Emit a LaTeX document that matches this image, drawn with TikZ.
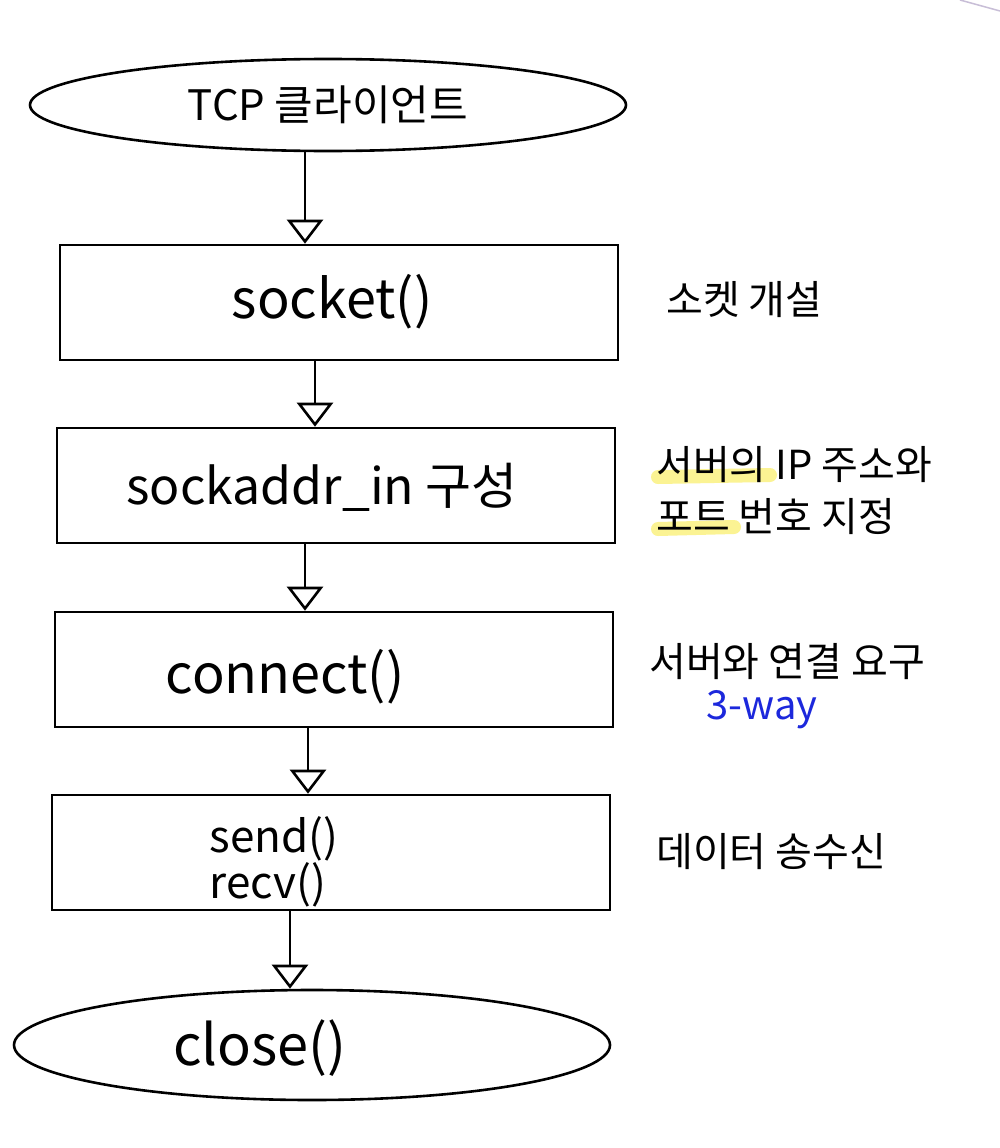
\documentclass[tikz,border=0pt]{standalone}
\usepackage{fontspec}
\setmainfont{Noto Sans CJK KR}
\usetikzlibrary{shapes.geometric,arrows.meta}
\definecolor{hl}{RGB}{250,240,120}
\definecolor{wayblue}{RGB}{28,40,220}
\definecolor{faint}{RGB}{200,190,215}
\begin{document}
\begin{tikzpicture}[x=1pt,y=-1pt,
 line width=2.6pt,
 term/.style={draw, ellipse, inner sep=0pt, minimum width=596pt},
 stepbox/.style={draw, rectangle, minimum width=558pt, minimum height=115pt, inner sep=0pt},
 code/.style={font=\fontsize{54}{58}\selectfont, inner sep=0pt},
 note/.style={font=\fontsize{40}{44}\selectfont, anchor=west, inner sep=0pt},
 arr/.style={-{Triangle[open,width=36pt,length=24pt,line width=2.6pt]}},
]
\useasboundingbox (0,0) rectangle (1000,1148);
\fill[white] (0,0) rectangle (1000,1148);
\draw[faint, line width=1.5pt] (960,0) -- (1000,11);

% flow nodes
\node[term, minimum height=92pt, font=\fontsize{42}{46}\selectfont] (tcp) at (328,105) {TCP 클라이언트};
\node[stepbox] (sock) at (339,302.5) {};
\node[code] (sockT) at (332,302) {socket()};
\node[stepbox] (addr) at (336,485.5) {};
\node[code, font=\fontsize{50}{54}\selectfont] (addrT) at (322,487) {sockaddr\_in 구성};
\node[stepbox] (conn) at (334,669.5) {};
\node[code] (connT) at (285,677) {connect()};
\node[stepbox] (io) at (331,852.5) {};
\node[code, align=left, font=\fontsize{44}{44}\selectfont] (ioT) at (274,862) {send()\\recv()};
\node[term, minimum height=110pt] (cls) at (312,1045) {};
\node[code, font=\fontsize{56}{60}\selectfont] (clsT) at (260,1048) {close()};

% connectors
\coordinate (x1) at (305,0);
\coordinate (x2) at (315,0);
\coordinate (x3) at (305,0);
\coordinate (x4) at (308,0);
\coordinate (x5) at (290,0);
\draw[arr] (x1 |- tcp.south) -- (x1 |- sock.north);
\draw[arr] (x2 |- sock.south) -- (x2 |- addr.north);
\draw[arr] (x3 |- addr.south) -- (x3 |- conn.north);
\draw[arr] (x4 |- conn.south) -- (x4 |- io.north);
\draw[arr] (x5 |- io.south) -- (x5 |- cls.north);

% highlights
\draw[hl, line width=14pt, line cap=round, opacity=0.8] (658,477) -- (770,475);
\draw[hl, line width=14pt, line cap=round, opacity=0.8] (658,529) -- (734,527);

% notes
\node[note] (n1) at (665,300) {소켓 개설};
\node[note] (n2) at (655,465) {서버의 IP 주소와};
\node[note] (n3) at (655,517) {포트 번호 지정};
\node[note] (n4) at (648,662) {서버와 연결 요구};
\node[note, text=wayblue] (n5) at (705,710) {3-way};
\node[note] (n6) at (655,852) {데이터 송수신};
\end{tikzpicture}
\end{document}
